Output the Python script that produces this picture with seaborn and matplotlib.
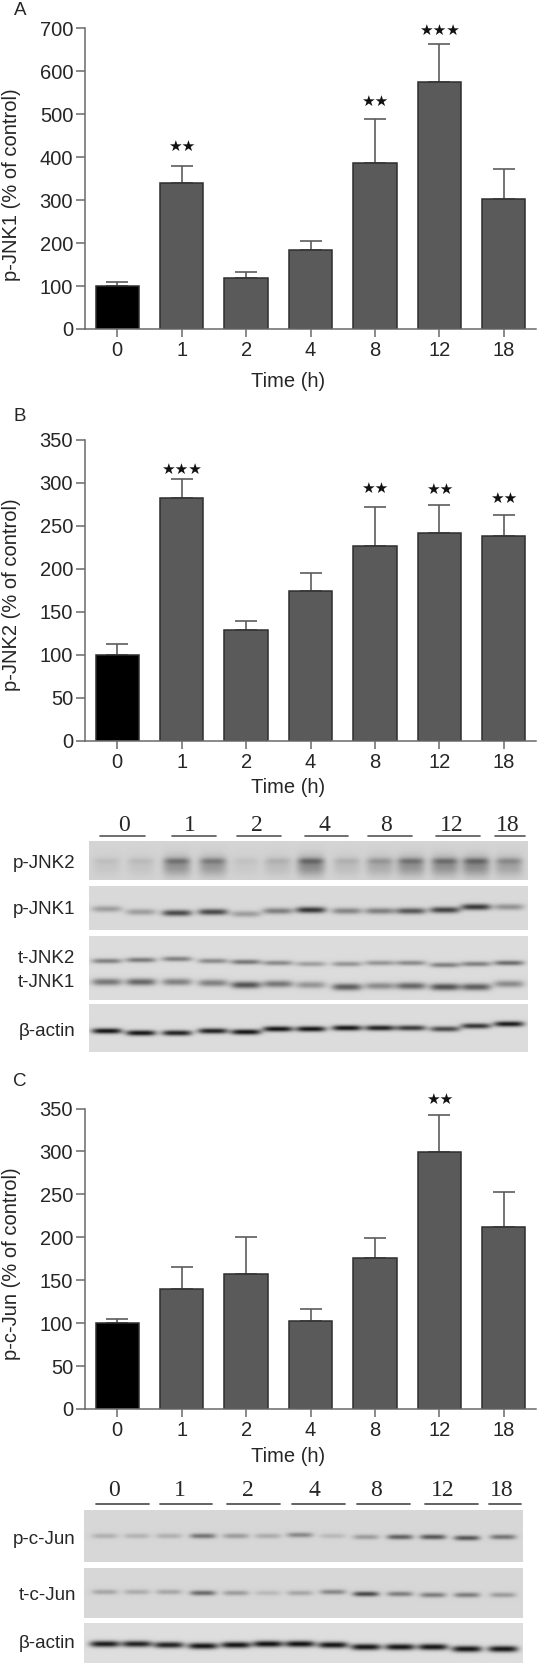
import numpy as np
import pandas as pd
import seaborn as sns
import matplotlib
matplotlib.use('Agg')
import matplotlib.pyplot as plt

W, H = 538, 1666

times = ['0', '1', '2', '4', '8', '12', '18']

jnk1_mean = [100, 341, 119, 184, 387, 574, 303]
jnk1_top = [110, 380, 132, 206, 489, 663, 372]
jnk1_stars = ['', '★★', '', '', '★★', '★★★', '']
jnk1_ticks = [0, 100, 200, 300, 400, 500, 600, 700]

jnk2_mean = [100, 282, 128, 174, 226, 241, 238]
jnk2_top = [112, 304, 139, 195, 272, 274, 262]
jnk2_stars = ['', '★★★', '', '', '★★', '★★', '★★']
jnk2_ticks = [0, 50, 100, 150, 200, 250, 300, 350]

jun_mean = [100, 140, 157, 103, 176, 299, 212]
jun_top = [105, 165, 200, 117, 199, 343, 253]
jun_stars = ['', '', '', '', '', '★★', '']
jun_ticks = [0, 50, 100, 150, 200, 250, 300, 350]

# band darkness per lane, read by eye off the blots
pjnk2_bands = [.12, .14, .55, .50, .10, .20, .62, .20, .35, .55, .58, .62, .42]
pjnk1_bands = [.30, .30, .72, .72, .30, .45, .82, .42, .45, .65, .75, .80, .35]
tjnk2_bands = [.45, .48, .45, .40, .50, .40, .30, .35, .35, .40, .45, .45, .55]
tjnk1_bands = [.50, .58, .45, .45, .68, .50, .35, .62, .40, .58, .68, .62, .40]
actin1_bands = [.98, .98, .92, .92, .98, .98, .98, .98, .92, .80, .72, .82, .95]
pjun_bands = [.20, .18, .20, .50, .30, .22, .40, .15, .30, .60, .65, .65, .50]
tjun_bands = [.25, .22, .25, .55, .30, .15, .25, .40, .72, .45, .45, .45, .30]
actin2_bands = [.95, .92, .92, .98, .98, 1, 1, .98, .98, .98, .98, .98, .98]

blot_groups = ['0', '1', '2', '4', '8', '12', '18']

sns.set_theme(style='ticks')
plt.rcParams['font.family'] = ['Liberation Sans', 'DejaVu Sans']

fig = plt.figure(figsize=(W / 100, H / 100), dpi=100)
fig.patch.set_facecolor('white')

txt = '#262626'
axis_col = '#6a6a6a'
fs = 14.5


def px_axes(left, top, right, bottom):
    return fig.add_axes([left / W, 1 - bottom / H, (right - left) / W, (bottom - top) / H])


def bar_panel(top, bottom, mean, err_top, stars, ticks, ylab, lab_y, xlab_y, star_gap):
    ax = px_axes(85, top, 536, bottom)
    df = pd.DataFrame({'time': times, 'value': mean})
    ax.errorbar(range(7), mean, yerr=[np.zeros(7), np.array(err_top) - np.array(mean)], fmt='none',
                ecolor='#5c5c5c', elinewidth=1.2, capsize=8, capthick=1.2, zorder=1)
    sns.barplot(data=df, x='time', y='value', hue='time', order=times, hue_order=times,
                palette=['#000000'] + ['#5a5a5a'] * 6, legend=False, width=0.67,
                edgecolor='#2e2e2e', linewidth=1.1, saturation=1, ax=ax, zorder=2)
    ax.set_xlim(-0.5, 6.5)
    ax.set_ylim(ticks[0], ticks[-1])
    ax.set_yticks(ticks)
    ax.patch.set_alpha(0)
    sns.despine(ax=ax)
    for s in ['left', 'bottom']:
        ax.spines[s].set_color(axis_col)
        ax.spines[s].set_linewidth(1.1)
    ax.tick_params(axis='y', length=6.5, width=1.1, color=axis_col, labelsize=fs, labelcolor=txt, pad=2)
    ax.tick_params(axis='x', length=5.5, width=1.1, color=axis_col, labelsize=fs, labelcolor=txt, pad=3.5)
    ax.set_xlabel('')
    ax.set_ylabel('')
    fig.text(12 / W, 1 - lab_y / H, ylab, rotation=90, ha='center', va='center', fontsize=fs, color=txt)
    fig.text(288 / W, 1 - xlab_y / H, 'Time (h)', ha='center', va='center', fontsize=fs, color=txt)
    for i, s in enumerate(stars):
        if s:
            ax.annotate(s, (i, err_top[i]), xytext=(0, star_gap[i]), textcoords='offset pixels',
                        ha='center', va='center', fontsize=11, family='DejaVu Sans', color='#111111',
                        annotation_clip=False)
    return ax


bar_panel(28.3, 329, jnk1_mean, jnk1_top, jnk1_stars, jnk1_ticks, 'p-JNK1 (% of control)', 185, 381.5,
          [0, 19, 0, 0, 18, 14, 0])
bar_panel(439.5, 740.5, jnk2_mean, jnk2_top, jnk2_stars, jnk2_ticks, 'p-JNK2 (% of control)', 595, 787,
          [0, 10, 0, 0, 18, 15, 17])
bar_panel(1108.5, 1409, jun_mean, jun_top, jun_stars, jun_ticks, 'p-c-Jun (% of control)', 1264, 1457,
          [0, 0, 0, 0, 0, 15, 0])

# overlay in pixel coordinates for the blots and free labels
ov = fig.add_axes([0, 0, 1, 1], zorder=5)
ov.set_xlim(0, W)
ov.set_ylim(H, 0)
ov.axis('off')
ov.patch.set_alpha(0)


def strip(x0, x1, y0, y1, bg, bands):
    # bands: list of (lane centres, band y per lane, darkness list, half width, sigma y)
    xs = np.arange(x0, x1) + 0.5
    ys = np.arange(y0, y1) + 0.5
    xx, yy = np.meshgrid(xs, ys)
    dark = np.zeros_like(xx)
    for lanes, by, vals, hw, sy in bands:
        for cx, cy, v in zip(lanes, by, vals):
            edge = np.exp(-((xx - cx) / hw) ** 4)
            dark += v * edge * np.exp(-((yy - cy) / sy) ** 2)
    img = bg - (bg - 0.08) * np.clip(dark, 0, 1)
    ov.imshow(img, extent=(x0, x1, y1, y0), cmap='gray', vmin=0, vmax=1, interpolation='bilinear',
              aspect='auto', zorder=1)


lanes1 = [107, 141, 177, 213, 246, 278, 311, 347, 380, 411, 445, 476, 509]
lanes2 = [105, 137, 169, 203, 236, 268, 300, 333, 366, 400, 433, 467, 503]

pjnk1_y = [909, 912, 913, 912, 914, 911, 910, 911, 911, 911, 910, 907, 907]
tjnk2_y = [961, 960, 959, 961, 962, 963, 964, 964, 963, 963, 965, 964, 963]
tjnk1_y = [982, 982, 982, 983, 985, 984, 985, 987, 986, 986, 987, 987, 984]
actin1_y = [1031, 1033, 1033, 1031, 1032, 1029, 1029, 1028, 1028, 1028, 1029, 1026, 1024]
actin2_y = [1644, 1644, 1645, 1646, 1645, 1644, 1644, 1645, 1647, 1647, 1647, 1649, 1649]
pjun_y = [1536, 1536, 1536, 1536, 1536, 1536, 1535, 1536, 1537, 1537, 1537, 1538, 1537]
tjun_y = [1592, 1592, 1592, 1593, 1593, 1593, 1593, 1592, 1594, 1594, 1595, 1595, 1595]

strip(89, 528, 841, 880, .83, [(lanes1, [866] * 13, np.array(pjnk2_bands) * .62, 14, 10),
                               (lanes1, [861] * 13, np.array(pjnk2_bands) * .45, 13, 3)])
strip(89, 528, 886, 930, .85, [(lanes1, pjnk1_y, pjnk1_bands, 15, 3.2)])
strip(89, 528, 936, 1000, .86, [(lanes1, tjnk2_y, tjnk2_bands, 15, 2.6), (lanes1, tjnk1_y, tjnk1_bands, 15, 3.6)])
strip(89, 528, 1004, 1052, .86, [(lanes1, actin1_y, actin1_bands, 15, 2.8)])
strip(84, 523, 1510, 1562, .84, [(lanes2, pjun_y, pjun_bands, 13, 2.6)])
strip(84, 523, 1568, 1618, .84, [(lanes2, tjun_y, tjun_bands, 13, 2.6)])
strip(84, 523, 1623, 1663, .87, [(lanes2, actin2_y, actin2_bands, 15, 3.2)])
ov.set_xlim(0, W)
ov.set_ylim(H, 0)

seg1 = [(100, 145), (172, 216), (237, 281), (305, 348), (368, 412), (436, 480), (495, 525)]
lab1 = [124, 190, 257, 324, 386, 452, 508]
seg2 = [(96, 149), (160, 212), (227, 280), (292, 345), (357, 410), (425, 478), (489, 521)]
lab2 = [114, 180, 248, 314, 376, 443, 502]

for (a, b), x, g in zip(seg1, lab1, blot_groups):
    ov.plot([a, b], [836, 836], color='#555555', lw=1.2, zorder=2)
    ov.text(x, 825, g, ha='center', va='center', fontsize=17, family='Liberation Serif', color=txt)
for (a, b), x, g in zip(seg2, lab2, blot_groups):
    ov.plot([a, b], [1504, 1504], color='#555555', lw=1.3, zorder=2)
    ov.text(x, 1491, g, ha='center', va='center', fontsize=17, family='Liberation Serif', color=txt)

for y, t in zip([863, 909, 958, 982, 1032], ['p-JNK2', 'p-JNK1', 't-JNK2', 't-JNK1', 'β-actin']):
    ov.text(75, y, t, ha='right', va='center', fontsize=13.5, color=txt)
for y, t in zip([1539, 1596, 1644], ['p-c-Jun', 't-c-Jun', 'β-actin']):
    ov.text(76, y, t, ha='right', va='center', fontsize=13.5, color=txt)

for y, t in zip([10, 416, 1082], ['A', 'B', 'C']):
    ov.text(20, y, t, ha='center', va='center', fontsize=13.5, color=txt)

fig.savefig('out.png', dpi=100)
